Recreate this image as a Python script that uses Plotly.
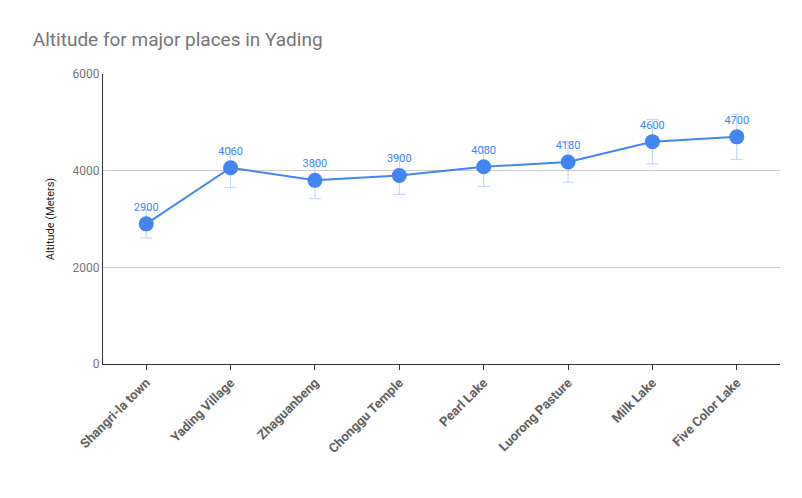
import plotly.graph_objects as go

places = ["Shangri-la town", "Yading Village", "Zhaguanbeng", "Chonggu Temple",
          "Pearl Lake", "Luorong Pasture", "Milk Lake", "Five Color Lake"]
altitude = [2900, 4060, 3800, 3900, 4080, 4180, 4600, 4700]
error = [290, 406, 380, 390, 408, 418, 460, 470]

fig = go.Figure()
fig.add_trace(go.Scatter(
    x=places, y=altitude,
    mode="lines+markers+text",
    line=dict(color="#4285f4", width=2),
    marker=dict(color="#4285f4", size=15),
    text=[str(v) for v in altitude],
    textposition="top center",
    textfont=dict(color="#4285f4", size=11),
    error_y=dict(type="data", array=error, color="#bcd3fa", thickness=1, width=6),
    cliponaxis=False,
))

fig.update_layout(
    width=802, height=498,
    plot_bgcolor="white", paper_bgcolor="white",
    font=dict(family="Roboto, Arial", color="#616161"),
    title=dict(text="Altitude for major places in Yading", x=0.031, y=0.95,
               yanchor="top", font=dict(size=19, color="#757575")),
    margin=dict(l=95, r=30, t=66, b=142),
    showlegend=False,
    xaxis=dict(tickangle=-45, tickfont=dict(size=13, color="#616161", weight="bold"),
               showgrid=False, ticks="outside", ticklen=5, tickcolor="#333",
               showline=True, linecolor="#333"),
    yaxis=dict(range=[0, 6000], dtick=2000, gridcolor="#cccccc",
               tickfont=dict(size=12, color="#757575"),
               showline=True, linecolor="#333", zeroline=False,
               title=dict(text="Altitude (Meters)", font=dict(size=11, color="#222"))),
)

fig.write_html("out.html")
